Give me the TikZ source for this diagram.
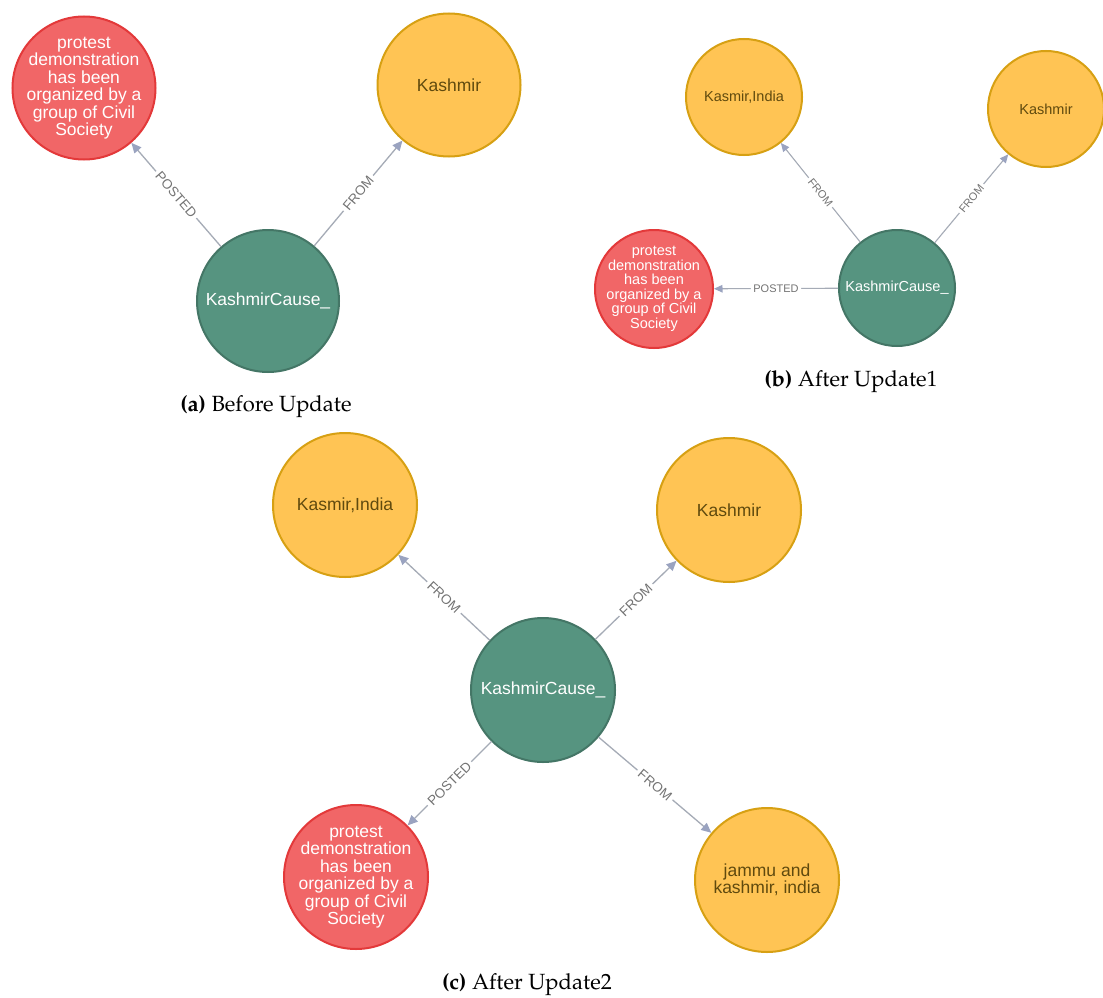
\documentclass[tikz,border=0pt]{standalone}
\usepackage{fontspec}
\setmainfont{Liberation Sans}
\usetikzlibrary{arrows.meta,shapes.geometric}

\definecolor{nred}{HTML}{F16667}
\definecolor{nredb}{HTML}{E3393A}
\definecolor{nyel}{HTML}{FFC454}
\definecolor{nyelb}{HTML}{D7A013}
\definecolor{nyeltxt}{HTML}{604A0E}
\definecolor{ngrn}{HTML}{569480}
\definecolor{ngrnb}{HTML}{447666}
\definecolor{ecol}{HTML}{A5ABB6}
\definecolor{etip}{HTML}{9AA3C0}
\definecolor{lcol}{HTML}{737373}

\newcommand{\capfnt}{\fontencoding{T1}\fontfamily{ppl}\fontsize{22}{26}\selectfont}

\begin{document}
\begin{tikzpicture}[x=1pt,y=-1pt,
  nd/.style={draw, line width=2pt, inner sep=0pt},
  bignode/.style={circle, minimum size=#1},
  rednode/.style={nd, fill=nred, draw=nredb},
  yelnode/.style={nd, fill=nyel, draw=nyelb},
  grnnode/.style={nd, fill=ngrn, draw=ngrnb},
  wtxt/.style={text=white, align=center, inner sep=0pt, font=\fontsize{17.5}{17.5}\selectfont},
  ytxt/.style={text=nyeltxt, align=center, inner sep=0pt, font=\fontsize{17.5}{17.5}\selectfont},
  wtxtsm/.style={text=white, align=center, inner sep=0pt, font=\fontsize{14.5}{14.5}\selectfont},
  ytxtsm/.style={text=nyeltxt, align=center, inner sep=0pt, font=\fontsize{14.5}{14.5}\selectfont},
  rel/.style={draw=ecol, line width=1.3pt, -{Triangle[length=10pt,width=9pt,color=etip,fill=etip]}},
  relsm/.style={draw=ecol, line width=1.1pt, -{Triangle[length=8.5pt,width=7.5pt,color=etip,fill=etip]}},
  rlab/.style={sloped, fill=white, text=lcol, inner sep=3pt, font=\fontsize{13.5}{13.5}\selectfont},
  rlabsm/.style={sloped, fill=white, text=lcol, inner sep=2.5pt, font=\fontsize{11}{11}\selectfont},
  capt/.style={inner sep=0pt, font=\capfnt}
]
\useasboundingbox (0,0) rectangle (1103,998);
\fill[white] (0,0) rectangle (1103,998);

% ---------- (a) Before Update ----------
\node[rednode, bignode=143pt,
  label={[wtxt]center:{protest\\demonstration\\has been\\organized by a\\group of Civil\\Society}}] (ra) at (84,88) {};
\node[yelnode, bignode=143pt, label={[ytxt]center:Kashmir}] (ka) at (449,85) {};
\node[grnnode, bignode=142pt, label={[wtxt]center:KashmirCause\_}] (ga) at (268,301) {};

\draw[rel] (ga) -- node[rlab] {POSTED} (ra);
\draw[rel] (ga) -- node[rlab] {FROM} (ka);

\node[capt] (capa) at (266,407) {\textbf{(a)} Before Update};

% ---------- (b) After Update1 ----------
\node[yelnode, bignode=116pt, label={[ytxtsm]center:Kasmir,India}] (kib) at (744,97) {};
\node[yelnode, bignode=116pt, label={[ytxtsm]center:Kashmir}] (kb) at (1046,109) {};
\node[grnnode, bignode=116pt, label={[wtxtsm]center:KashmirCause\_}] (gb) at (897,288) {};
\node[rednode, bignode=118pt,
  label={[wtxtsm]center:{protest\\demonstration\\has been\\organized by a\\group of Civil\\Society}}] (rb) at (654,289) {};

\draw[relsm] (gb) -- node[rlabsm] {FROM} (kib);
\draw[relsm] (gb) -- node[rlabsm] {FROM} (kb);
\draw[relsm] (gb) -- node[rlabsm] {POSTED} (rb);

\node[capt] (capb) at (851,382) {\textbf{(b)} After Update1};

% ---------- (c) After Update2 ----------
\node[yelnode, bignode=144pt, label={[ytxt]center:Kasmir,India}] (kic) at (345,505) {};
\node[yelnode, bignode=144pt, label={[ytxt]center:Kashmir}] (kc) at (729,510) {};
\node[grnnode, bignode=144pt, label={[wtxt]center:KashmirCause\_}] (gc) at (543,690) {};
\node[rednode, bignode=144pt,
  label={[wtxt]center:{protest\\demonstration\\has been\\organized by a\\group of Civil\\Society}}] (rc) at (356,877) {};
\node[yelnode, bignode=144pt, label={[ytxt]center:{jammu and\\kashmir, india}}] (jc) at (767,880) {};

\draw[rel] (gc) -- node[rlab] {FROM} (kic);
\draw[rel] (gc) -- node[rlab] {FROM} (kc);
\draw[rel] (gc) -- node[rlab] {POSTED} (rc);
\draw[rel] (gc) -- node[rlab] {FROM} (jc);

\node[capt] (capc) at (527,985) {\textbf{(c)} After Update2};
\end{tikzpicture}
\end{document}
